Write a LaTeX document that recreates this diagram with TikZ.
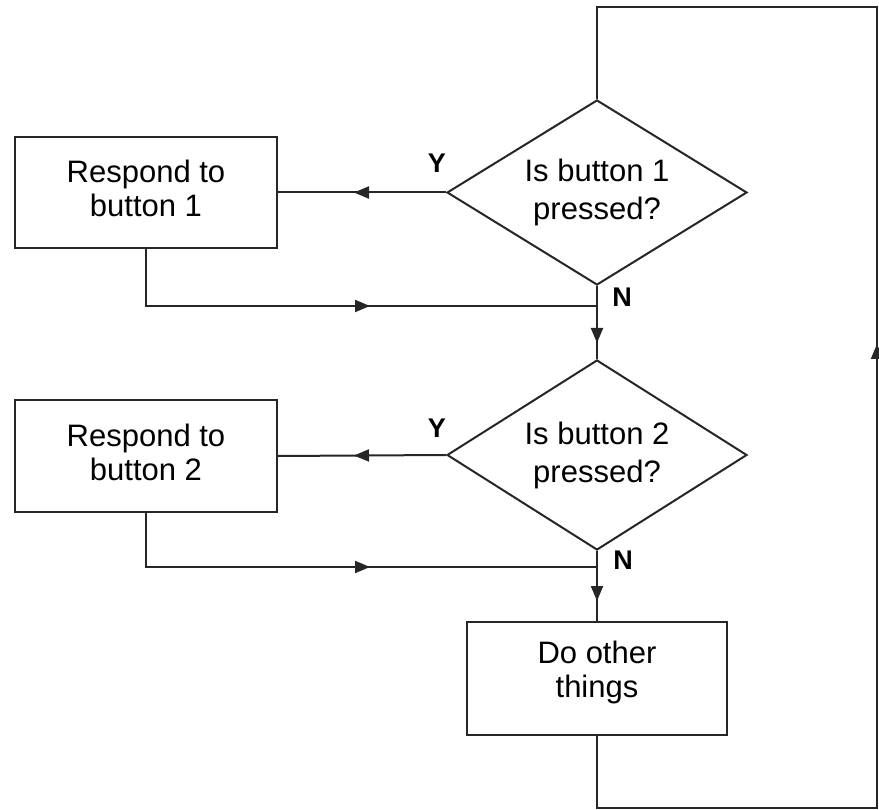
\documentclass[tikz,border=0pt]{standalone}
\usepackage{fontspec}
\setmainfont{Liberation Sans}
\usetikzlibrary{shapes.geometric,arrows.meta,decorations.markings}
\begin{document}
\begin{tikzpicture}[x=1pt,y=-1pt,
  line width=2pt, draw=black!85,
  box/.style={draw, rectangle, minimum width=262pt, inner sep=0pt, align=center,
    text depth=8pt, font=\fontsize{31}{34}\selectfont},
  decision/.style={draw, diamond, minimum width=300pt, inner sep=-15pt, align=center,
    font=\fontsize{31}{38}\selectfont},
  yn/.style={font=\fontsize{27}{30}\selectfont\bfseries, inner sep=0pt},
  arrowat/.style={postaction={decorate}, decoration={markings,
    mark=at position #1 with {\arrow{Triangle[length=15pt,width=12pt]}}}}]
\useasboundingbox (0,0) rectangle (879,810);
\node[box, minimum height=111pt] (b1) at (146,192.5) {Respond to\\button 1};
\node[box, minimum height=112pt] (b2) at (146,456) {Respond to\\button 2};
\node[decision, minimum height=185pt] (d1) at (597,192.5) {Is button 1\\pressed?};
\node[decision, minimum height=190pt] (d2) at (597,455) {Is button 2\\pressed?};
\node[box, minimum width=260pt, minimum height=113pt, text depth=18.5pt] (b3) at (597,678.5) {Do other\\things};
\node[yn] (y1) at (437,163) {Y};
\node[yn] (n1) at (622,297) {N};
\node[yn] (y2) at (437,428) {Y};
\node[yn] (n2) at (623,560) {N};
\coordinate (j1) at (597,306);
\coordinate (j2) at (597,567);
\coordinate (c1) at (597,808);
\coordinate (c2) at (877,808);
\coordinate (c3) at (877,7);
\coordinate (c4) at (597,7);
\draw[arrowat=92pt] (d1.west) -- (b1.east);
\draw[arrowat=92pt] (d2.west) -- (b2.east);
\draw[arrowat=281pt] (b1.south) |- (j1);
\draw[arrowat=278pt] (b2.south) |- (j2);
\draw[arrowat=57pt] (d1.south) -- (d2.north);
\draw[arrowat=50pt] (d2.south) -- (b3.north);
\draw[arrowat=816pt] (b3.south) -- (c1) -- (c2) -- (c3) -- (c4) -- (d1.north);
\end{tikzpicture}
\end{document}
